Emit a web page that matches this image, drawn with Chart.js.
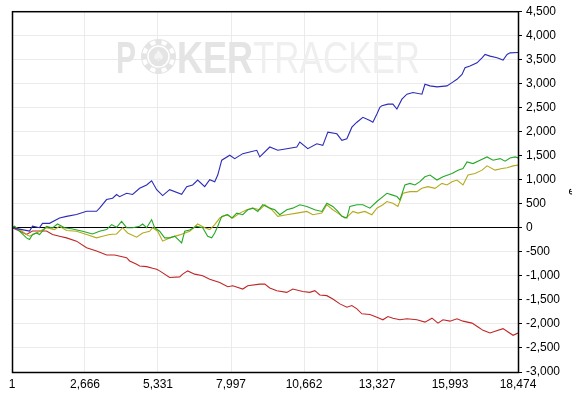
<!DOCTYPE html>
<html>
<head>
<meta charset="utf-8">
<script src="https://cdn.jsdelivr.net/npm/chart.js@4/dist/chart.umd.min.js"></script>
<style>
  html, body { margin: 0; padding: 0; background: #fff; }
  #wrap { width: 572px; height: 395px; }
</style>
</head>
<body>
<div id="wrap"><canvas id="graph" width="572" height="395"></canvas></div>
<script>
let xTicks = [1, 2666, 5331, 7997, 10662, 13327, 15993, 18474];

let blueHands = [1, 274, 640, 749, 1005, 1115, 1371, 1736, 1992, 2357, 2723, 3088, 3198, 3454, 3673, 3820, 3929, 4185, 4404, 4660, 4916, 5099, 5282, 5501, 5757, 6195, 6378, 6597, 6780, 7036, 7219, 7402, 7512, 7658, 7951, 8133, 8426, 8681, 8937, 9047, 9412, 9704, 10033, 10398, 10508, 10800, 11129, 11349, 11532, 11861, 12043, 12226, 12409, 12592, 12811, 13067, 13176, 13322, 13432, 13505, 13725, 13907, 14053, 14236, 14419, 14638, 14967, 15077, 15260, 15516, 15881, 16064, 16247, 16430, 16540, 16722, 16978, 17161, 17271, 17453, 17709, 17929, 18075, 18184, 18474];
let blueValues = [0, -30, -70, 30, 0, 90, 90, 200, 235, 275, 340, 340, 405, 585, 612, 690, 645, 715, 690, 818, 888, 975, 790, 667, 790, 695, 853, 888, 990, 853, 997, 955, 1094, 1403, 1506, 1436, 1539, 1574, 1609, 1471, 1677, 1609, 1642, 1677, 1780, 1642, 1745, 1712, 1986, 1951, 1815, 1848, 2089, 2192, 2295, 2227, 2192, 2363, 2501, 2536, 2569, 2569, 2466, 2672, 2775, 2810, 2775, 2981, 2948, 2927, 2948, 3016, 3084, 3187, 3325, 3360, 3428, 3531, 3600, 3566, 3531, 3484, 3600, 3634, 3640];

let greenHands = [1, 91, 274, 530, 640, 749, 895, 1005, 1261, 1480, 1663, 1919, 2211, 2577, 2942, 3198, 3454, 3637, 3820, 4002, 4185, 4404, 4660, 4770, 4916, 5099, 5208, 5391, 5574, 5757, 5940, 6195, 6305, 6488, 6743, 6963, 7146, 7292, 7402, 7512, 7658, 7878, 8024, 8206, 8426, 8608, 8791, 8974, 9156, 9412, 9596, 9778, 10033, 10252, 10508, 10764, 11056, 11312, 11495, 11714, 11897, 12043, 12226, 12336, 12592, 12811, 13067, 13322, 13542, 13688, 13871, 14053, 14163, 14345, 14528, 14711, 14894, 15077, 15260, 15516, 15735, 16064, 16283, 16466, 16613, 16832, 17088, 17344, 17563, 17819, 18002, 18184, 18367, 18474];
let greenValues = [0, 29, -70, -212, -245, -142, -110, -142, 29, -6, 76, 0, -27, -74, -130, -74, -39, 64, 8, 132, 0, 0, 29, 76, 0, 167, 0, -74, -212, -212, -177, -315, -74, -50, 29, 0, -177, -212, -110, 29, 235, 270, 200, 303, 270, 373, 406, 338, 476, 406, 373, 270, 373, 406, 476, 441, 373, 338, 509, 441, 338, 235, 200, 441, 476, 476, 406, 544, 647, 715, 682, 647, 579, 888, 921, 888, 956, 1059, 1094, 991, 1059, 1127, 1196, 1230, 1368, 1333, 1403, 1471, 1403, 1436, 1382, 1450, 1471, 1450];

let oliveHands = [1, 91, 274, 530, 640, 895, 1261, 1553, 1736, 1992, 2357, 2723, 3088, 3308, 3564, 3820, 4039, 4222, 4551, 4770, 5025, 5135, 5318, 5501, 5757, 6122, 6488, 6780, 7036, 7219, 7402, 7585, 7841, 8060, 8316, 8572, 8791, 9047, 9230, 9486, 9704, 10033, 10398, 10764, 10983, 11312, 11495, 11714, 11897, 12153, 12263, 12446, 12628, 12884, 13140, 13322, 13542, 13688, 13907, 14090, 14272, 14528, 14784, 14967, 15186, 15443, 15698, 15881, 16064, 16247, 16466, 16649, 16905, 17161, 17344, 17636, 17892, 18075, 18294, 18474];
let oliveValues = [0, 29, -39, -142, -177, -110, 0, -39, 29, -60, -74, -142, -212, -177, -142, -130, 0, -110, -198, -110, -74, 0, -74, -280, -212, -150, -74, 76, 0, -39, 64, 200, 270, 200, 303, 373, 406, 373, 476, 373, 235, 270, 303, 338, 270, 303, 476, 373, 303, 200, 235, 338, 303, 338, 270, 406, 476, 544, 509, 441, 715, 750, 750, 818, 853, 818, 921, 888, 956, 991, 888, 1094, 1127, 1196, 1285, 1196, 1230, 1244, 1285, 1300];

let redHands = [1, 274, 530, 749, 1005, 1261, 1480, 1736, 1992, 2357, 2723, 3088, 3454, 3746, 4185, 4295, 4551, 4660, 4916, 5135, 5282, 5391, 5757, 6122, 6232, 6415, 6670, 6963, 7219, 7585, 7878, 8060, 8426, 8608, 9047, 9230, 9412, 9669, 10033, 10252, 10617, 10873, 11056, 11239, 11495, 11714, 11970, 12226, 12409, 12592, 12774, 13067, 13322, 13542, 13724, 13907, 14163, 14419, 14784, 15077, 15333, 15552, 15735, 15990, 16247, 16466, 16796, 17015, 17198, 17453, 17636, 17929, 18112, 18294, 18474];
let redValues = [0, -70, -140, -70, -70, -70, -140, -177, -212, -280, -418, -486, -569, -569, -624, -692, -760, -795, -810, -843, -863, -898, -1036, -1022, -966, -898, -966, -1001, -1070, -1139, -1228, -1207, -1276, -1207, -1173, -1173, -1255, -1310, -1345, -1276, -1325, -1345, -1310, -1400, -1413, -1482, -1584, -1654, -1619, -1687, -1790, -1805, -1860, -1914, -1846, -1881, -1914, -1893, -1914, -1963, -1881, -1984, -1914, -1943, -1893, -1943, -1984, -2066, -2134, -2190, -2155, -2099, -2169, -2237, -2190];

function toPoints(hands, values) {
    return hands.map((h, i) => ({ x: h, y: values[i] }));
}

function line(label, hands, values, color) {
    return {
        label: label,
        data: toPoints(hands, values),
        borderColor: color,
        borderWidth: 1.1,
        pointRadius: 0,
        tension: 0,
        fill: false
    };
}

// light "POKERTRACKER" logo behind the lines
const watermark = {
    id: 'watermark',
    beforeDatasetsDraw(chart) {
        let ctx = chart.ctx;
        ctx.save();
        ctx.textBaseline = 'alphabetic';
        ctx.textAlign = 'left';
        ctx.fillStyle = '#e4e4e4';
        ctx.font = 'bold 44px "Liberation Sans", Arial, sans-serif';
        ctx.fillText('P', 116, 73, 20);
        ctx.fillText('KER', 177, 73, 76);

        // chip in place of the O
        let cx = 158.5, cy = 56.5, r = 17.5;
        ctx.beginPath();
        ctx.arc(cx, cy, r, 0, Math.PI * 2);
        ctx.fill();
        ctx.strokeStyle = '#ffffff';
        ctx.lineWidth = 4;
        for (let i = 0; i < 8; i++) {
            let a = i * Math.PI / 4 + Math.PI / 8;
            ctx.beginPath();
            ctx.arc(cx, cy, r - 3, a - 0.18, a + 0.18);
            ctx.stroke();
        }
        ctx.lineWidth = 1.5;
        ctx.beginPath();
        ctx.arc(cx, cy, r * 0.6, 0, Math.PI * 2);
        ctx.stroke();
        ctx.fillStyle = '#f4f4f4';
        ctx.font = '15px "DejaVu Sans", sans-serif';
        ctx.textAlign = 'center';
        ctx.textBaseline = 'middle';
        ctx.fillText('\u2660', cx, cy + 1);

        ctx.textAlign = 'left';
        ctx.textBaseline = 'alphabetic';
        ctx.fillStyle = '#efefef';
        ctx.font = '44px "Liberation Sans", Arial, sans-serif';
        ctx.fillText('TRACKER', 253, 73, 167);
        ctx.restore();
    }
};

// black frame round the plot and the clipped axis title at the right edge
const frame = {
    id: 'frame',
    afterDraw(chart) {
        let ctx = chart.ctx;
        let a = chart.chartArea;
        ctx.save();
        ctx.strokeStyle = '#000';
        ctx.lineWidth = 1.5;
        ctx.strokeRect(a.left + 0.5, a.top + 0.5, a.right - a.left, a.bottom - a.top);
        ctx.translate(575, (a.top + a.bottom) / 2);
        ctx.rotate(-Math.PI / 2);
        ctx.fillStyle = '#000';
        ctx.font = '12px "Liberation Sans", Arial, sans-serif';
        ctx.textAlign = 'center';
        ctx.textBaseline = 'middle';
        ctx.fillText('$', 0, 0);
        ctx.restore();
    }
};

Chart.defaults.font.family = '"Liberation Sans", Arial, sans-serif';
Chart.defaults.font.size = 12;
Chart.defaults.color = '#000';

let ctx = document.getElementById('graph').getContext('2d');
let chart = new Chart(ctx, {
    type: 'line',
    data: {
        datasets: [
            line('Blue', blueHands, blueValues, '#2b2bb8'),
            line('Green', greenHands, greenValues, '#26a826'),
            line('Olive', oliveHands, oliveValues, '#b3ab1c'),
            line('Red', redHands, redValues, '#c02626')
        ]
    },
    options: {
        responsive: false,
        animation: false,
        layout: { padding: { left: 12, top: 8, right: 0, bottom: 0 } },
        plugins: {
            legend: { display: false },
            tooltip: { enabled: false }
        },
        scales: {
            x: {
                type: 'linear',
                min: 1,
                max: 18474,
                afterBuildTicks: axis => { axis.ticks = xTicks.map(v => ({ value: v })); },
                afterFit: axis => { axis.height = 23; },
                ticks: {
                    autoSkip: false,
                    maxRotation: 0,
                    padding: 5,
                    callback: v => v.toLocaleString('en-US')
                },
                grid: { color: '#ebebeb', drawTicks: false },
                border: { color: '#000', width: 1 }
            },
            y: {
                position: 'right',
                min: -3000,
                max: 4500,
                afterFit: axis => { axis.width = 54; },
                ticks: {
                    stepSize: 500,
                    padding: 4,
                    callback: v => v.toLocaleString('en-US')
                },
                grid: {
                    color: c => c.tick && c.tick.value === 0 ? '#000' : '#ebebeb',
                    tickColor: '#000',
                    tickLength: 4
                },
                border: { color: '#000', width: 1 }
            }
        }
    },
    plugins: [watermark, frame]
});
</script>
</body>
</html>
